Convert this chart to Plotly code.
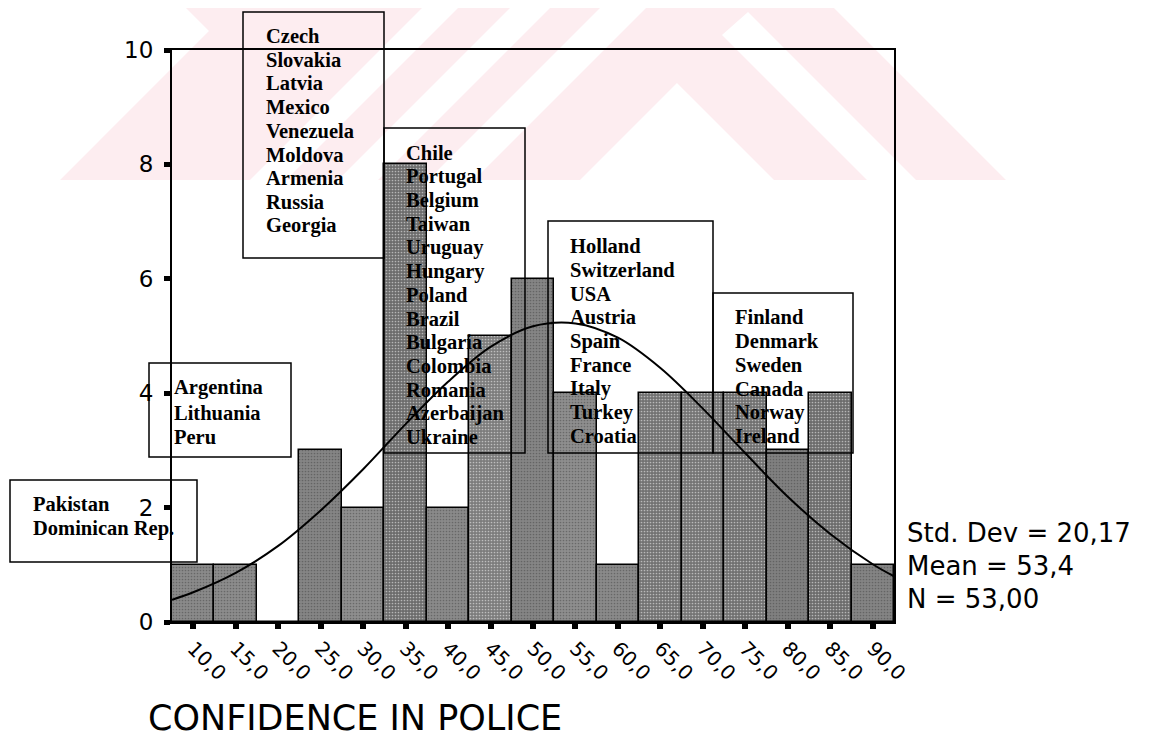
import plotly.graph_objects as go

# histogram of confidence in police (bins of width 5)
bin_centers = [10, 15, 20, 25, 30, 35, 40, 45, 50, 55, 60, 65, 70, 75, 80, 85, 90]
counts = [1, 1, 0, 3, 2, 8, 2, 5, 6, 4, 1, 4, 4, 4, 3, 4, 1]
tick_text = ["10,0", "15,0", "20,0", "25,0", "30,0", "35,0", "40,0", "45,0", "50,0",
             "55,0", "60,0", "65,0", "70,0", "75,0", "80,0", "85,0", "90,0"]

# normal curve
curve_x = [7.5, 10, 15, 20, 25, 30, 35, 40, 45, 50, 55, 60, 65, 70, 75, 80, 85, 90, 92.5]
curve_y = [0.39, 0.52, 0.86, 1.33, 1.95, 2.67, 3.46, 4.20, 4.81, 5.17, 5.22, 4.97,
           4.44, 3.73, 2.95, 2.19, 1.54, 1.01, 0.80]

y_ticks = [0, 2, 4, 6, 8, 10]

# country labels per box
group_pakistan = ["Pakistan", "Dominican Rep."]
group_argentina = ["Argentina", "Lithuania", "Peru"]
group_czech = ["Czech", "Slovakia", "Latvia", "Mexico", "Venezuela", "Moldova",
               "Armenia", "Russia", "Georgia"]
group_chile = ["Chile", "Portugal", "Belgium", "Taiwan", "Uruguay", "Hungary", "Poland",
               "Brazil", "Bulgaria", "Colombia", "Romania", "Azerbaijan", "Ukraine"]
group_holland = ["Holland", "Switzerland", "USA", "Austria", "Spain", "France", "Italy",
                 "Turkey", "Croatia"]
group_finland = ["Finland", "Denmark", "Sweden", "Canada", "Norway", "Ireland"]

stats_lines = ["Std. Dev = 20,17", "Mean = 53,4", "N = 53,00"]
x_title = "CONFIDENCE IN POLICE"

# bar shades (scanned greys)
bar_colors = ["#8a8a8a", "#8c8c8c", "#8c8c8c", "#858585", "#8e8e8e", "#6c6c6c", "#8a8a8a",
              "#7c7c7c", "#858585", "#8e8e8e", "#8a8a8a", "#727272", "#747474", "#707070",
              "#808080", "#6c6c6c", "#848484"]

# plot area in pixels of the page (the page body adds an 8px offset)
OFF = 8
L, R, T, B = 172, 894, 50, 622
W, H = 1174, 740


def px_x(x):
    return (x - L) / (R - L)


def px_y(y):
    return (B - y) / (B - T)


fig = go.Figure()

fig.add_trace(go.Bar(
    x=bin_centers, y=counts, width=5,
    marker=dict(color=bar_colors, line=dict(color="black", width=1.5),
                pattern=dict(shape=".", fillmode="overlay", fgcolor="#3a3a3a",
                             size=3, solidity=0.25)),
    showlegend=False, hoverinfo="skip",
))
fig.add_trace(go.Scatter(
    x=curve_x, y=curve_y, mode="lines", line=dict(color="black", width=2, shape="spline"),
    showlegend=False, hoverinfo="skip",
))

shapes = []

# faint pink watermark at the top
pink = "#fdedf0"


def poly(pts):
    return "M " + " L ".join(f"{px_x(a):.4f},{px_y(b):.4f}" for a, b in pts) + " Z"


shapes.append(dict(type="path", xref="paper", yref="paper", layer="below",
                   path=poly([(178, 0), (826, 0), (1006, 180), (60, 180), (209, 31)]),
                   fillcolor=pink, line=dict(width=0)))
for pts in [
    [(580, 180), (677, 83), (774, 180)],
    [(722, 35), (748, 12), (916, 180), (867, 180)],
    [(608, 0), (654, 0), (474, 180), (428, 180)],
    [(518, 0), (558, 0), (378, 180), (338, 180)],
    [(430, 0), (466, 0), (286, 180), (250, 180)],
]:
    shapes.append(dict(type="path", xref="paper", yref="paper", layer="below",
                       path=poly(pts), fillcolor="white", line=dict(width=0)))

annotations = []

# label boxes: (lines, box x0, x1, y0, y1, text left, first line y, spacing)
boxes = [
    (group_pakistan, 10, 197, 480, 562, 32, 504, 24),
    (group_argentina, 149, 291, 363, 457, 173, 388, 24.5),
    (group_czech, 243, 384, 12, 258, 265, 36, 23.7),
    (group_chile, 384, 525, 128, 453, 405, 153, 23.7),
    (group_holland, 548, 713, 221, 453, 569, 246, 23.75),
    (group_finland, 713, 853, 293, 453, 734, 317, 23.9),
]
for lines, x0, x1, y0, y1, tx, ty, dy in boxes:
    shapes.append(dict(type="rect", xref="paper", yref="paper", layer="above",
                       x0=px_x(x0), x1=px_x(x1), y0=px_y(y1), y1=px_y(y0),
                       line=dict(color="black", width=1.5)))
    for i, name in enumerate(lines):
        annotations.append(dict(
            text=f"<b>{name}</b>", xref="paper", yref="paper",
            x=px_x(tx), y=px_y(ty + i * dy), xanchor="left", yanchor="middle",
            showarrow=False, borderpad=0,
            font=dict(family="Liberation Serif", size=20.5, color="black"),
        ))

for i, line in enumerate(stats_lines):
    annotations.append(dict(
        text=line, xref="paper", yref="paper",
        x=px_x(905), y=px_y(533 + i * 33), xanchor="left", yanchor="middle",
        showarrow=False, font=dict(family="DejaVu Sans", size=26, color="black"),
    ))

annotations.append(dict(
    text=x_title, xref="paper", yref="paper",
    x=px_x(146), y=px_y(718), xanchor="left", yanchor="middle",
    showarrow=False, font=dict(family="DejaVu Sans", size=35, color="black"),
))

fig.update_layout(
    width=W - OFF, height=H - OFF,
    margin=dict(l=L - OFF, r=W - R, t=T - OFF, b=H - B),
    paper_bgcolor="white", plot_bgcolor="rgba(0,0,0,0)",
    bargap=0, shapes=shapes, annotations=annotations,
    font=dict(family="DejaVu Sans", color="black"),
)
fig.update_xaxes(
    range=[7.5, 92.5], tickmode="array", tickvals=bin_centers, ticktext=tick_text,
    tickangle=45, tickfont=dict(size=20), showgrid=False, zeroline=False,
    showline=True, linecolor="black", linewidth=2, mirror=True,
    ticks="outside", ticklen=5, tickwidth=6, tickcolor="black",
)
fig.update_yaxes(
    range=[0, 10], tickmode="array", tickvals=y_ticks,
    tickfont=dict(size=23), showgrid=False, zeroline=False,
    showline=True, linecolor="black", linewidth=2, mirror=True,
    ticks="outside", ticklen=6, tickwidth=5, tickcolor="black", ticklabelstandoff=6,
)

fig.write_html("out.html")
